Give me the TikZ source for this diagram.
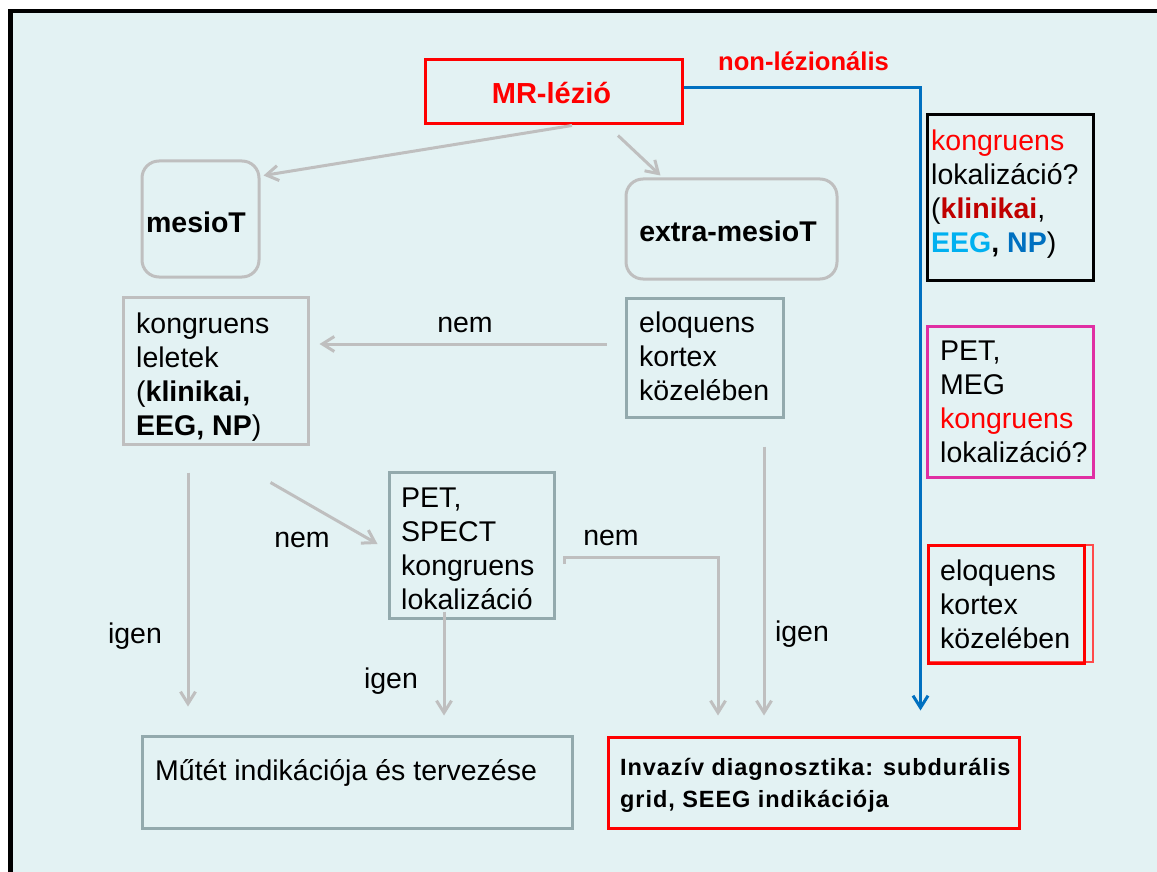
\documentclass[tikz,border=0pt]{standalone}
\usepackage{fontspec}
\setmainfont{Liberation Sans}
\newfontfamily\invfont[LetterSpace=4]{Liberation Sans}
\usetikzlibrary{arrows.meta,calc}
\definecolor{bgc}{HTML}{E3F2F3}
\definecolor{lgray}{HTML}{BFBFBF}
\definecolor{tealg}{HTML}{93AAAD}
\definecolor{mrred}{HTML}{FF0000}
\definecolor{lred}{HTML}{FF4A4A}
\definecolor{dred}{HTML}{C00000}
\definecolor{pblue}{HTML}{0070C0}
\definecolor{lblue}{HTML}{00B0F0}
\definecolor{magb}{HTML}{E02FA3}
\newcommand\mystr{\rule{0pt}{27pt}}
\newcommand\mystrb{\rule{0pt}{25pt}}
\begin{document}
\begin{tikzpicture}[x=1pt,y=-1pt,
  bx/.style={draw=#1, line width=3pt, inner sep=0pt, rectangle},
  rbx/.style={bx=#1, rounded corners=17pt},
  txt/.style={inner sep=0pt, anchor=north west, align=left, font=\fontsize{28.5}{34}\selectfont},
  lab/.style={inner sep=0pt, anchor=base, font=\fontsize{28.5}{34}\selectfont},
  garr/.style={draw=lgray, line width=3pt, -{Straight Barb[length=12pt,width=15pt]}},
  barr/.style={draw=pblue, line width=3pt, -{Straight Barb[length=12pt,width=15pt]}}]
\useasboundingbox (0,0) rectangle (1157,872);
\fill[white] (0,0) rectangle (1157,872);
\fill[bgc] (13,13) rectangle (1157,872);
\fill[black] (8,9) rectangle (1157,13);
\fill[black] (8,9) rectangle (13,872);

% boxes
\node[bx=mrred, minimum width=257pt, minimum height=64pt] (mr) at (553.5,92) {};
\node[rbx=lgray, minimum width=117pt, minimum height=116pt] (mesio) at (200.5,219) {};
\node[rbx=lgray, minimum width=211pt, minimum height=100pt] (extra) at (731.5,229) {};
\node[bx=lgray, minimum width=185pt, minimum height=147pt] (kong) at (215.5,370.5) {};
\node[bx=tealg, minimum width=157pt, minimum height=119pt] (eloq) at (704.5,357.5) {};
\node[bx=tealg, minimum width=165pt, minimum height=146pt] (pet) at (471.5,545) {};
\node[bx=tealg, minimum width=430pt, minimum height=92pt] (mutet) at (357,782) {};
\node[bx=mrred, minimum width=411pt, minimum height=91pt] (invaz) at (813.5,782.5) {};
\node[bx=black, minimum width=166pt, minimum height=165pt] (bk) at (1010,197.5) {};
\node[bx=magb, minimum width=166pt, minimum height=151pt] (mg) at (1010,401.5) {};
\node[draw=lred, line width=1.5pt, inner sep=0pt, minimum width=165pt, minimum height=117pt] (rd2) at (1010.5,603.5) {};
\node[bx=mrred, minimum width=156pt, minimum height=118pt] (rd) at (1006,604) {};

% connectors
\draw[garr] ($(mr.south)+(18.5,0)$) -- ($(mesio.north east)+(3,16)$);
\draw[garr] ($(mr.south)+(64.5,10)$) -- ($(extra.north west)+(36,-2)$);
\draw[garr] ($(eloq.west)+(-18,-13.5)$) -- ($(kong.east)+(10,-26.5)$);
\draw[garr] ($(kong.south)+(55,37)$) -- ($(pet.west)+(-10,-1)$);
\draw[garr] ($(kong.south)+(-27.5,27)$) -- ($(mutet.north)+(-169,-28)$);
\draw[garr] ($(pet.south)+(-27.5,-8)$) -- ($(mutet.north)+(87,-19)$);
\draw[garr] ($(pet.east)+(9,19)$) -- ++(0,-7) -| ($(invaz.north)+(-95.5,-20)$);
\draw[garr] ($(eloq.south)+(59.5,28)$) -- ($(invaz.north)+(-49.5,-20)$);
\draw[barr] ($(mr.east)+(0,-4)$) -| ($(invaz.north east)+(-100,-25)$);

% texts
\node[lab, text=mrred, font=\fontsize{29}{34}\selectfont\bfseries] (mrT) at (551.5,104) {MR-lézió};
\node[lab, font=\fontsize{28.5}{34}\selectfont\bfseries] (mesioT) at (196,232) {mesioT};
\node[lab, font=\fontsize{28.5}{34}\selectfont\bfseries] (extraT) at (728,241) {extra-mesioT};
\node[lab, text=mrred, font=\fontsize{25.6}{30}\selectfont\bfseries] (nonlez) at (803.5,71) {non-lézionális};
\node[lab] (nem1) at (465,332) {nem};
\node[lab] (nem2) at (302,547) {nem};
\node[lab] (nem3) at (611,545) {nem};
\node[lab] (igen1) at (135,643) {igen};
\node[lab] (igen2) at (391,688) {igen};
\node[lab] (igen3) at (802,641) {igen};

\node[txt] (kongT) at (136,306) {\mystr kongruens\\leletek\\(\textbf{klinikai,}\\\textbf{EEG, NP})};
\node[txt] (eloqT) at (639,305) {\mystr eloquens\\kortex\\közelében};
\node[txt] (petT) at (401,480) {\mystr PET,\\SPECT\\kongruens\\lokalizáció};
\node[txt] (bkT) at (931,123) {\mystr\textcolor{mrred}{kongruens}\\lokalizáció?\\(\textbf{\textcolor{dred}{klinikai}},\\\textbf{\textcolor{lblue}{EEG}, \textcolor{pblue}{NP}})};
\node[txt] (mgT) at (940,333) {\mystr PET,\\MEG\\\textcolor{mrred}{kongruens}\\lokalizáció?};
\node[txt] (rdT) at (940,553) {\mystr eloquens\\kortex\\közelében};
\node[txt] (mutetT) at (155,753) {\mystr Műtét indikációja és tervezése};
\node[txt, font=\invfont\fontsize{23.5}{32}\selectfont\bfseries] (invazT) at (620,750) {\mystrb Invazív diagnosztika: subdurális\\grid, SEEG indikációja};
\end{tikzpicture}
\end{document}
